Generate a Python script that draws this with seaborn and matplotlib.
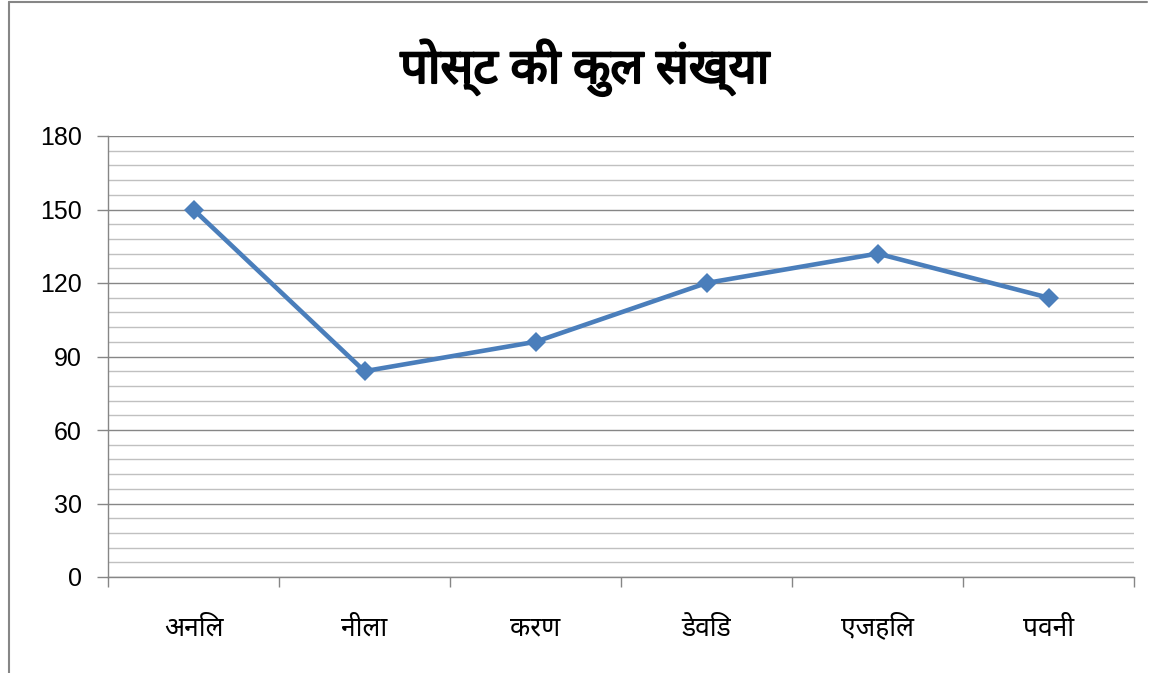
import matplotlib
matplotlib.use("Agg")
import matplotlib.pyplot as plt
import matplotlib.patheffects as pe
import seaborn as sns
import pandas as pd
from matplotlib.ticker import MultipleLocator, FixedLocator
from matplotlib.lines import Line2D

names = ["अनिल", "नीला", "करण", "डेविड", "एजहिल", "पवनी"]
posts = [150, 84, 96, 120, 132, 114]
title = "पोस्ट की कुल संख्या"
yticks = [0, 30, 60, 90, 120, 150, 180]

sns.set_theme(style="white")
fams = ["Noto Sans Devanagari", "Lohit Devanagari", "Mangal", "Noto Sans", "Liberation Sans", "DejaVu Sans"]
plt.rcParams["font.family"] = fams
plt.rcParams["text.color"] = "black"
plt.rcParams["xtick.color"] = "black"
plt.rcParams["ytick.color"] = "black"

df = pd.DataFrame({"name": names, "posts": posts, "pos": range(len(names))})

W, H = 1153, 673
fig = plt.figure(figsize=(W / 100, H / 100), dpi=100)
ax = fig.add_axes([108 / W, 1 - 577 / H, (1134 - 108) / W, (577 - 136) / H])

sns.lineplot(data=df, x="pos", y="posts", ax=ax, color="#4A7EBB", linewidth=3.3,
             marker="D", markersize=10.5, markeredgewidth=0, zorder=5)

ax.set_xlim(-0.5, len(names) - 0.5)
ax.set_ylim(0, 180)
ax.yaxis.set_major_locator(FixedLocator(yticks))
ax.yaxis.set_minor_locator(MultipleLocator(6))
ax.grid(which="major", axis="y", color="#868686", linewidth=1.0)
ax.grid(which="minor", axis="y", color="#C0C0C0", linewidth=1.0)
ax.set_axisbelow(True)

ax.set_xticks(range(len(names)))
ax.set_xticklabels(names, fontsize=19, color="black")
ax.xaxis.set_minor_locator(FixedLocator([i - 0.5 for i in range(len(names) + 1)]))
ax.tick_params(axis="x", which="major", length=0, pad=27, labelcolor="black")
ax.tick_params(axis="x", which="minor", length=7, width=1, color="#868686", direction="out", bottom=True)
ax.tick_params(axis="y", which="major", length=8, width=1, color="#868686", direction="out", left=True,
               labelsize=18, pad=11, labelcolor="black")
ax.tick_params(axis="y", which="minor", length=0)
for lab in ax.get_yticklabels():
    lab.set_family(["Liberation Sans", "DejaVu Sans"])

for s in ["top", "right"]:
    ax.spines[s].set_visible(False)
for s in ["left", "bottom"]:
    ax.spines[s].set_color("#868686")
    ax.spines[s].set_linewidth(1.0)
ax.set_xlabel("")
ax.set_ylabel("")

fig.text(585 / W, 1 - 68 / H, title, ha="center", va="center", fontsize=35, fontweight="bold",
         color="black", path_effects=[pe.withStroke(linewidth=1.5, foreground="black")])

fig.add_artist(Line2D([9 / W, 9 / W], [0, 1 - 2 / H], transform=fig.transFigure, color="#868686", linewidth=1.5))
fig.add_artist(Line2D([9 / W, 1147 / W], [1 - 2 / H, 1 - 2 / H], transform=fig.transFigure, color="#868686", linewidth=1.5))

fig.savefig("out.png", dpi=100, facecolor="white")
